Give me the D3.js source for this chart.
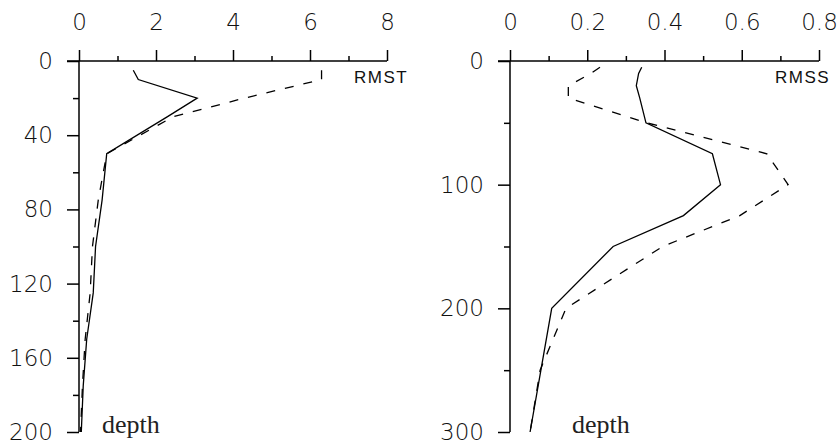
<!DOCTYPE html>
<html>
<head>
<meta charset="utf-8">
<script src="https://cdn.jsdelivr.net/npm/d3@7"></script>
<style>
  body { margin: 0; background: #fff; }
  svg { display: block; }
  .tick text { font-family: "DejaVu Sans", "Liberation Sans", Arial, sans-serif; font-weight: 200; font-size: 23px; fill: #111; }
  .tick line { stroke: #000; stroke-width: 1.5; }
</style>
</head>
<body>
<svg id="chart" width="839" height="444"></svg>
<script>
// left panel: RMST against depth
const depthT = [5, 10, 20, 30, 50, 75, 100, 125, 150, 175, 200];
const rmstSolid = [1.41, 1.54, 3.07, 2.3, 0.72, 0.6, 0.43, 0.37, 0.2, 0.11, 0.06];
const rmstDash = [6.3, 6.3, 4.3, 2.45, 0.72, 0.5, 0.35, 0.29, 0.16, 0.09, 0.04];
const rmstTicks = [0, 2, 4, 6, 8];
const rmstMinor = [1, 3, 5, 7];
const depthTTicks = [0, 40, 80, 120, 160, 200];
const depthTMinor = [20, 60, 100, 140, 180];

// right panel: RMSS against depth
const depthS = [5, 10, 20, 30, 50, 75, 100, 125, 150, 200, 250, 300];
const rmssSolid = [0.341, 0.333, 0.327, 0.336, 0.352, 0.524, 0.545, 0.449, 0.267, 0.108, 0.08, 0.052];
const rmssDash = [0.233, 0.21, 0.151, 0.151, 0.354, 0.665, 0.72, 0.595, 0.395, 0.145, 0.078, 0.052];
const rmssTicks = [0, 0.2, 0.4, 0.6, 0.8];
const rmssMinor = [0.1, 0.3, 0.5, 0.7];
const depthSTicks = [0, 100, 200, 300];
const depthSMinor = [50, 150, 250];

const svg = d3.select("#chart");

function panel(opt) {
  const x = d3.scaleLinear().domain(opt.xDomain).range(opt.xRange);
  const y = d3.scaleLinear().domain(opt.yDomain).range([61, 432]);
  const g = svg.append("g");

  // ticks on the top axis, pointing up
  g.append("g").attr("transform", "translate(0," + y(0) + ")")
    .call(d3.axisTop(x).tickValues(opt.xTicks).tickSize(11).tickPadding(20).tickFormat(opt.xFmt))
    .call(a => a.select(".domain").remove());
  g.append("g").attr("transform", "translate(0," + y(0) + ")")
    .call(d3.axisTop(x).tickValues(opt.xMinor).tickSize(5).tickFormat(""))
    .call(a => a.select(".domain").remove());

  // depth axis
  const yAx = g.append("g").attr("transform", "translate(" + x(0) + ",0)")
    .call(d3.axisLeft(y).tickValues(opt.yTicks).tickSize(12).tickPadding(14))
    .call(a => a.select(".domain").remove());
  yAx.selectAll("text").attr("dy", "0.33em");
  g.append("g").attr("transform", "translate(" + x(0) + ",0)")
    .call(d3.axisLeft(y).tickValues(opt.yMinor).tickSize(6).tickFormat(""))
    .call(a => a.select(".domain").remove());

  // axis lines
  g.append("line")
    .attr("x1", x(0) - 12).attr("x2", opt.xRange[1])
    .attr("y1", y(0)).attr("y2", y(0))
    .attr("stroke", "#000").attr("stroke-width", 1.5);
  g.append("line")
    .attr("x1", x(0)).attr("x2", x(0))
    .attr("y1", y(0)).attr("y2", y(opt.yDomain[1]))
    .attr("stroke", "#000").attr("stroke-width", 1.5);

  const line = d3.line().x(d => x(d[1])).y(d => y(d[0]));
  g.append("path")
    .datum(opt.depth.map((d, i) => [d, opt.solid[i]]))
    .attr("d", line).attr("fill", "none")
    .attr("stroke", "#000").attr("stroke-width", 1.3);
  g.append("path")
    .datum(opt.depth.map((d, i) => [d, opt.dash[i]]))
    .attr("d", line).attr("fill", "none")
    .attr("stroke", "#000").attr("stroke-width", 1.3)
    .attr("stroke-dasharray", "9,10");

  g.append("text")
    .attr("x", opt.labelX).attr("y", 83)
    .attr("font-family", "Liberation Sans, Arial, sans-serif")
    .attr("font-size", 17).attr("letter-spacing", 1.5)
    .attr("fill", "#111")
    .text(opt.label);
  g.append("text")
    .attr("x", opt.depthX).attr("y", 433)
    .attr("font-family", "Liberation Serif, Times New Roman, serif")
    .attr("font-size", 26).attr("fill", "#222")
    .text("depth");
}

panel({
  xDomain: [0, 8], xRange: [79, 387], yDomain: [0, 200],
  xTicks: rmstTicks, xMinor: rmstMinor, yTicks: depthTTicks, yMinor: depthTMinor,
  xFmt: d3.format("d"),
  depth: depthT, solid: rmstSolid, dash: rmstDash,
  label: "RMST", labelX: 354, depthX: 102
});

panel({
  xDomain: [0, 0.8], xRange: [510, 819], yDomain: [0, 300],
  xTicks: rmssTicks, xMinor: rmssMinor, yTicks: depthSTicks, yMinor: depthSMinor,
  xFmt: d => d === 0 ? "0" : d3.format(".1f")(d),
  depth: depthS, solid: rmssSolid, dash: rmssDash,
  label: "RMSS", labelX: 775, depthX: 572
});
</script>
</body>
</html>
